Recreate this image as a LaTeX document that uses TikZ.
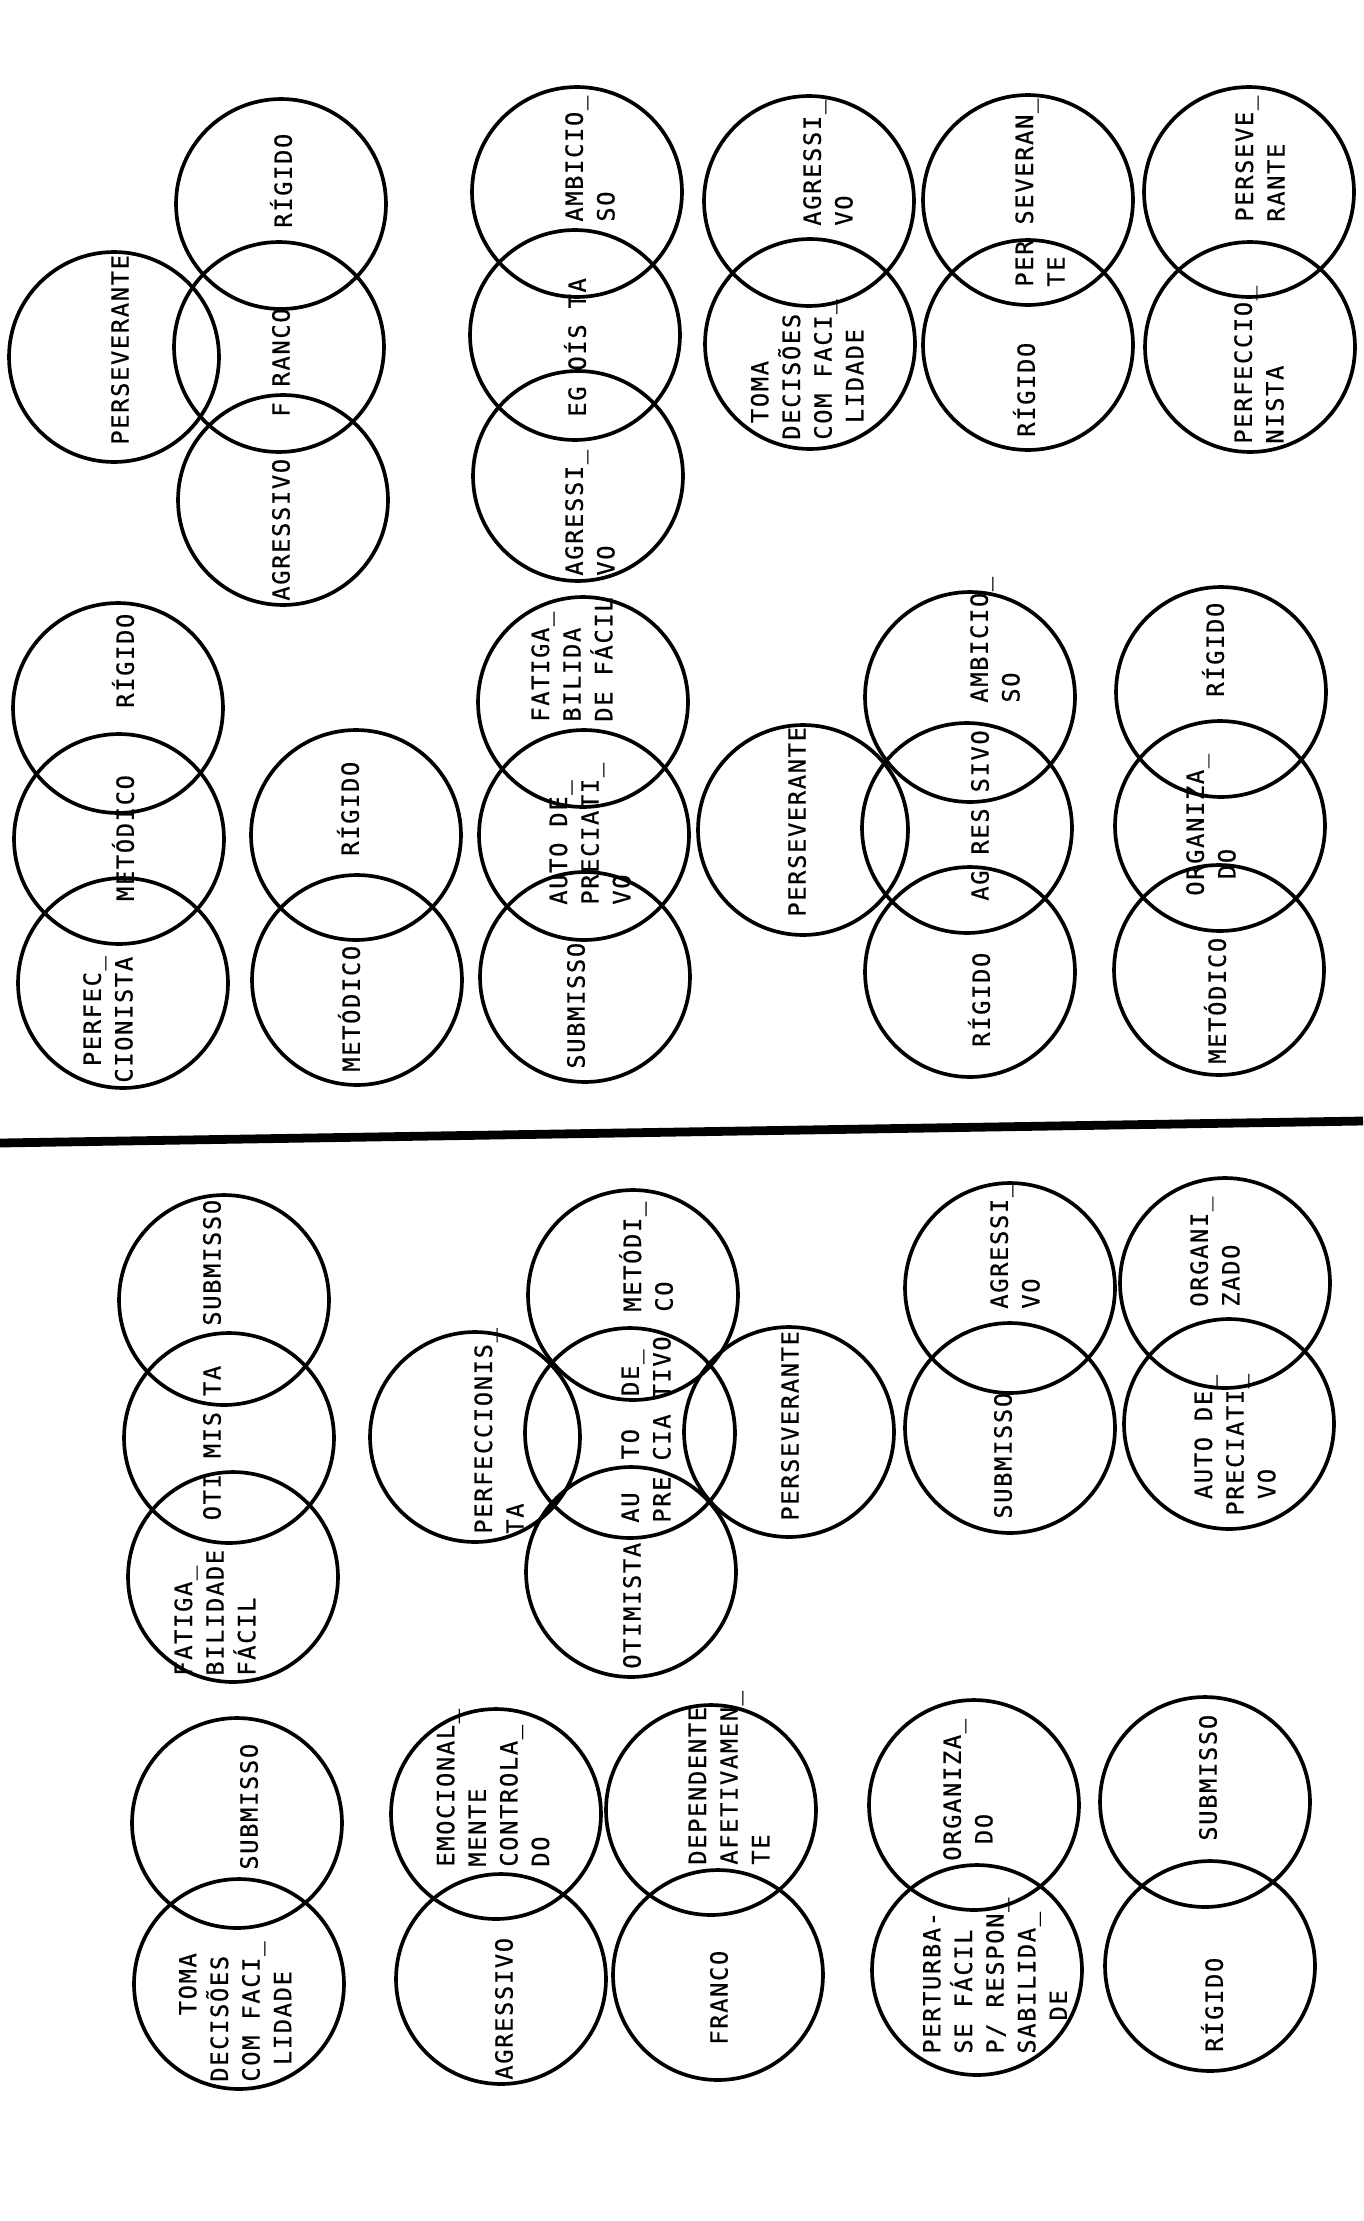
\documentclass[tikz,border=0pt]{standalone}
\usepackage{fontspec}
\newfontfamily\typewr[LetterSpace=7,FakeBold=0.6]{DejaVu Sans Mono}
\newcommand\indt{\hspace*{0.7em}}
\begin{document}
\begin{tikzpicture}[x=0.02cm,y=-0.02cm,
    ring/.style={circle,draw,line width=2.1pt,minimum size=4.2cm,inner sep=0pt},
    tag/.style={rotate=90,anchor=west,inner sep=0pt,align=left,
        font=\typewr\fontsize{13.5pt}{18pt}\selectfont},
    mid/.style={tag,anchor=center},
    rule/.style={line width=5pt}]
    \fill[white] (0,0) rectangle (1363,2221);
    \useasboundingbox (0,0) rectangle (1363,2221);
    % Upper sheet: circles
    \foreach \n/\x/\y in {a1/114/357,a2/281/204,a3/279/347,a4/283/500,
        b1/577/192,b2/575/335,b3/578/476,c1/809/201,c2/810/344,
        d1/1028/200,d2/1028/345,e1/1249/192,e2/1250/347,
        f1/118/708,f2/119/839,f3/123/983,g1/356/835,g2/357/980,
        h1/583/702,h2/584/835,h3/585/977,
        i1/803/830,i2/970/697,i3/967/828,i4/970/972,
        j1/1221/692,j2/1220/826,j3/1219/970}
        \node[ring] (\n) at (\x,\y) {};
    % Upper sheet: words
    \node[tag] (a1t) at (120,445) {PERSEVERANTE};
    \node[tag] (a4t) at (281,601) {AGRESSIVO};
    \node[tag] (a3t) at (281,417) {F RANCO};
    \node[tag] (a2t) at (281,228) {RÍGIDO};
    \node[tag] (b3t) at (590,576) {AGRESSI\_\\VO};
    \node[tag] (b2t) at (575,417) {EG OÍS TA};
    \node[tag] (b1t) at (590,222) {AMBICIO\_\\SO};
    \node[tag] (c1t) at (828,226) {AGRESSI\_\\VO};
    \node[tag] (c2t) at (807,440) {\indt TOMA\\DECISÕES\\COM FACI\_\\\indt LIDADE};
    \node[tag] (d1t) at (1040,287) {PER SEVERAN\_\\TE};
    \node[tag] (d2t) at (1024,437) {RÍGIDO};
    \node[tag] (e1t) at (1260,222) {PERSEVE\_\\RANTE};
    \node[tag] (e2t) at (1259,444) {PERFECCIO\_\\NISTA};
    \node[tag] (f3t) at (108,1083) {\indt PERFEC\_\\CIONISTA};
    \node[mid] (f2t) at (123,838) {METÓDICO};
    \node[tag] (f1t) at (123,708) {RÍGIDO};
    \node[tag] (g1t) at (348,856) {RÍGIDO};
    \node[tag] (g2t) at (349,1072) {METÓDICO};
    \node[tag] (h1t) at (572,722) {FATIGA\_\\BILIDA\\DE FÁCIL};
    \node[tag] (h2t) at (590,905) {AUTO DE\_\\PRECIATI\_\\VO};
    \node[tag] (h3t) at (576,1069) {SUBMISSO};
    \node[tag] (i1t) at (797,917) {PERSEVERANTE};
    \node[tag] (i2t) at (995,703) {AMBICIO\_\\SO};
    \node[tag] (i3t) at (980,901) {AG RES SIVO};
    \node[tag] (i4t) at (979,1047) {RÍGIDO};
    \node[tag] (j1t) at (1213,697) {RÍGIDO};
    \node[tag] (j2t) at (1211,896) {ORGANIZA\_\\\indt DO};
    \node[tag] (j3t) at (1215,1064) {METÓDICO};
    % Dividing rule
    \coordinate (ruleL) at (0,1143);
    \coordinate (ruleR) at (1363,1121);
    \draw[rule] (ruleL) -- (ruleR);
    % Lower sheet: circles
    \foreach \n/\x/\y in {k1/224/1300,k2/229/1438,k3/233/1577,
        m1/475/1437,m2/633/1295,m3/630/1433,m4/631/1572,m5/789/1432,
        n1/1010/1288,n2/1010/1428,o1/1225/1283,o2/1229/1424,
        p1/237/1823,p2/239/1984,q1/496/1814,q2/501/1979,
        r1/711/1810,r2/718/1975,s1/974/1805,s2/977/1970,
        u1/1205/1802,u2/1210/1966}
        \node[ring] (\n) at (\x,\y) {};
    % Lower sheet: words
    \node[tag] (k1t) at (212,1326) {SUBMISSO};
    \node[mid] (k2t) at (212,1443) {OTI MIS TA};
    \node[tag] (k3t) at (215,1676) {FATIGA\_\\BILIDADE\\FÁCIL};
    \node[tag] (m1t) at (499,1534) {PERFECCIONIS\_\\TA};
    \node[tag] (m3t) at (646,1523) {AU\indt\indt TO\indt\indt DE\_\\PRE CIA TIVO};
    \node[tag] (m2t) at (646,1312) {METÓDI\_\\CO};
    \node[tag] (m4t) at (632,1669) {OTIMISTA};
    \node[tag] (m5t) at (790,1521) {PERSEVERANTE};
    \node[tag] (n1t) at (1015,1309) {AGRESSI\_\\VO};
    \node[tag] (n2t) at (1003,1519) {SUBMISSO};
    \node[tag] (o1t) at (1215,1307) {ORGANI\_\\ZADO};
    \node[tag] (o2t) at (1235,1516) {\indt AUTO DE\_\\PRECIATI\_\\\indt VO};
    \node[tag] (p1t) at (249,1870) {SUBMISSO};
    \node[tag] (p2t) at (235,2082) {\indt\indt\indt\indt TOMA\\DECISÕES\\COM FACI\_\\\indt LIDADE};
    \node[tag] (q1t) at (493,1867) {EMOCIONAL\_\\MENTE\\CONTROLA\_\\DO};
    \node[tag] (q2t) at (504,2080) {AGRESSIVO};
    \node[tag] (r1t) at (729,1865) {DEPENDENTE\\AFETIVAMEN\_\\TE};
    \node[tag] (r2t) at (719,2045) {FRANCO};
    \node[tag] (s1t) at (968,1861) {ORGANIZA\_\\\indt DO};
    \node[tag] (s2t) at (995,2054) {PERTURBA-\\SE FÁCIL\\P/ RESPON\_\\SABILIDA\_\\\indt\indt DE};
    \node[tag] (u1t) at (1208,1841) {SUBMISSO};
    \node[tag] (u2t) at (1212,2052) {RÍGIDO};
\end{tikzpicture}
\end{document}
